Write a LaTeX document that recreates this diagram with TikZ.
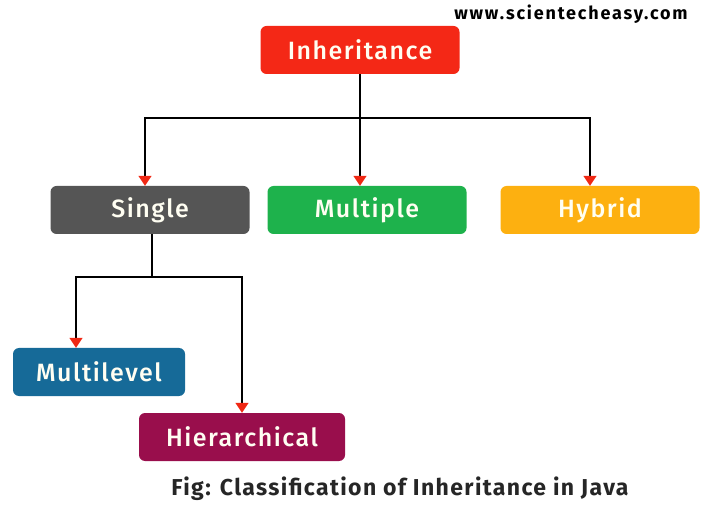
\documentclass[tikz,border=0pt]{standalone}
\usepackage{fontspec}
\setmainfont{Fira Sans}
\IfFontExistsTF{Fira Sans Medium}
  {\newfontfamily\boxfont{Fira Sans Medium}[LetterSpace=6]}
  {\newfontfamily\boxfont{Fira Sans}[LetterSpace=6,FakeBold=1.5]}
\newfontfamily\capfont{Fira Sans}[LetterSpace=6]
\usetikzlibrary{arrows.meta,positioning}
\definecolor{inhred}{RGB}{244,40,22}
\definecolor{singlegray}{RGB}{85,85,85}
\definecolor{multgreen}{RGB}{30,178,76}
\definecolor{hybyellow}{RGB}{253,176,16}
\definecolor{mlevblue}{RGB}{22,106,152}
\definecolor{hiermaroon}{RGB}{153,14,76}
\definecolor{tipred}{RGB}{240,40,20}

\begin{document}
\begin{tikzpicture}[x=1pt,y=-1pt,
    box/.style={rectangle, rounded corners=6pt, minimum width=199pt, minimum height=48pt,
      inner sep=0pt, text=white!95!yellow, font=\fontsize{25}{28}\boxfont},
    wire/.style={line width=1.6pt, black},
    link/.style={wire, -{Triangle[color=tipred, length=10pt, width=13pt]}}]
  \useasboundingbox (0,0) rectangle (720,510);
  % boxes
  \node[box, fill=inhred] (inh) at (360,50) {Inheritance};
  \node[box, fill=singlegray] (single) at (150,210) {Single};
  \node[box, fill=multgreen] (mult) at (367,210) {Multiple};
  \node[box, fill=hybyellow] (hyb) at (600,210) {Hybrid};
  \node[box, fill=mlevblue, minimum width=172pt] (mlev) at (99,372) {Multilevel};
  \node[box, fill=hiermaroon, minimum width=206pt] (hier) at (242,437) {Hierarchical};
  % texts
  \node[font=\fontsize{18}{20}\capfont\bfseries\addfontfeatures{LetterSpace=10}] (web) at (571,14) {www.scientecheasy.com};
  \node[font=\fontsize{23}{26}\capfont\bfseries, text=black!85] (cap) at (400,489) {Fig: Classification of Inheritance in Java};
  % connectors
  \coordinate (jt) at (360,118);
  \coordinate (js) at (152,277);
  \draw[wire] (inh.south) -- (jt);
  \draw[link] (jt) -| ([xshift=-5pt]single.north);
  \draw[link] (jt) -- (jt |- mult.north);
  \draw[link] (jt) -| ([xshift=-10pt]hyb.north);
  \draw[wire] ([xshift=2pt]single.south) -- (js);
  \draw[link] (js) -| ([xshift=-23pt]mlev.north);
  \draw[link] (js) -| (hier.north);
\end{tikzpicture}
\end{document}
